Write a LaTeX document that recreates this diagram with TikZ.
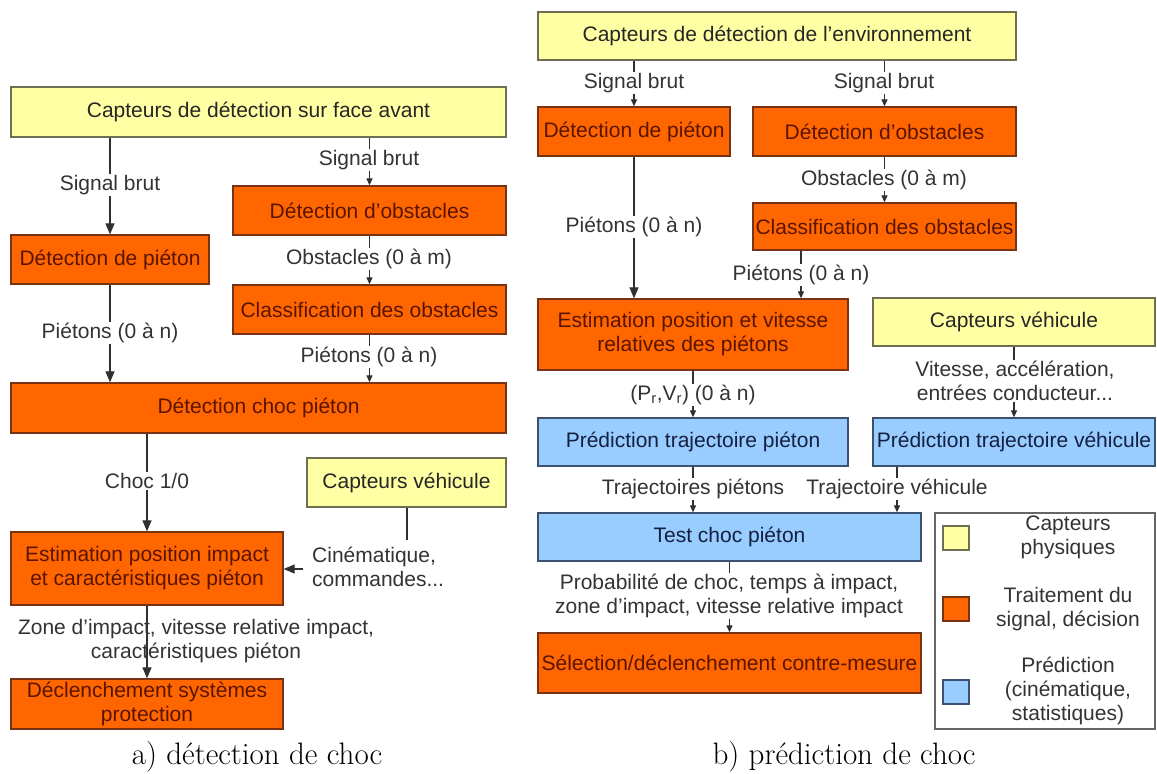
\documentclass[tikz,border=0pt]{standalone}
\usepackage{fontspec}
\newfontfamily\arial{Liberation Sans}
\usetikzlibrary{arrows.meta}
\definecolor{yfill}{HTML}{FFFFA3}
\definecolor{ydraw}{HTML}{6E6E50}
\definecolor{ofill}{HTML}{FF6600}
\definecolor{odraw}{HTML}{7A3214}
\definecolor{otext}{HTML}{5A1400}
\definecolor{bfill}{HTML}{99CCFF}
\definecolor{bdraw}{HTML}{3C5070}
\definecolor{btext}{HTML}{142040}
\definecolor{lcol}{HTML}{303030}
\tikzset{
  every node/.style={font=\arial\fontsize{21}{24}\selectfont},
  boxbase/.style={draw, line width=1.3pt, inner sep=0pt, align=center, anchor=center},
  ybox/.style={boxbase, fill=yfill, draw=ydraw, text=black!85},
  obox/.style={boxbase, fill=ofill, draw=odraw, text=otext},
  bbox/.style={boxbase, fill=bfill, draw=bdraw, text=btext},
  lbl/.style={fill=white, inner sep=1pt, align=center, text=black!80},
  lblclear/.style={inner sep=1pt, align=center, text=black!80},
  bigarr/.style={draw=lcol, line width=1.2pt, -{Triangle[length=11pt,width=9pt]}},
  smallarr/.style={draw=lcol, line width=1.2pt, -{Triangle[length=7pt,width=6pt]}},
  plainline/.style={draw=lcol, line width=1.2pt},
  captxt/.style={font=\fontsize{31}{36}\selectfont}
}
\begin{document}
\begin{tikzpicture}[x=1pt,y=-1pt]
\useasboundingbox (0,0) rectangle (1157,774);
% ---------- left diagram ----------
\node[ybox, minimum width=495pt, minimum height=50pt] (capA) at (258.5,112) {Capteurs de détection sur face avant};
\node[obox, minimum width=198pt, minimum height=49pt] (detP) at (110,259.5) {Détection de piéton};
\node[obox, minimum width=273pt, minimum height=49pt] (detO) at (369.5,210.5) {Détection d’obstacles};
\node[obox, minimum width=273pt, minimum height=49pt] (clsO) at (369.5,309.5) {Classification des obstacles};
\node[obox, minimum width=495pt, minimum height=50pt] (choc) at (258.5,408) {Détection choc piéton};
\node[ybox, minimum width=199pt, minimum height=49pt] (capV) at (406.5,482.5) {Capteurs véhicule};
\node[obox, minimum width=272pt, minimum height=73pt] (estA) at (147,568.5) {Estimation position impact\\et caractéristiques piéton};
\node[obox, minimum width=272pt, minimum height=50pt] (decl) at (147,704) {Déclenchement systèmes\\protection};
\coordinate (cvEnd) at (407,540);
\coordinate (cvStart) at (303,569);

\draw[bigarr] (capA.south -| detP.north) -- (detP.north);
\draw[smallarr] (capA.south -| detO.north) -- (detO.north);
\draw[smallarr] (detO.south) -- (clsO.north);
\draw[bigarr] (detP.south) -- (detP.south |- choc.north);
\draw[smallarr] (clsO.south) -- (clsO.south |- choc.north);
\draw[bigarr] (choc.south -| estA.north) -- (estA.north);
\draw[plainline] (capV.south -| cvEnd) -- (cvEnd);
\draw[bigarr] (cvStart) -- (cvStart -| estA.east);
\draw[bigarr] (estA.south) -- (decl.north);

\node[lbl] (lA1) at (110,185) {Signal brut};
\node[lbl] (lA2) at (369,160) {Signal brut};
\node[lbl] (lA3) at (369,259) {Obstacles (0 à m)};
\node[lbl] (lA4) at (110,333) {Piétons (0 à n)};
\node[lbl] (lA5) at (369,357) {Piétons (0 à n)};
\node[lbl] (lA6) at (147,481) {Choc 1/0};
\node[lbl, align=left, anchor=west] (lA7) at (311,567) {Cinématique,\\commandes...};
\node[lblclear] (lA8) at (196,641) {Zone d’impact, vitesse relative impact,\\caractéristiques piéton};

\node[captxt] (capa) at (257,757) {a) détection de choc};

% ---------- right diagram ----------
\node[ybox, minimum width=478pt, minimum height=48pt] (capE) at (777,36) {Capteurs de détection de l’environnement};
\node[obox, minimum width=192pt, minimum height=49pt] (detP2) at (634,131.5) {Détection de piéton};
\node[obox, minimum width=263pt, minimum height=49pt] (detO2) at (884.5,131.5) {Détection d’obstacles};
\node[obox, minimum width=263pt, minimum height=47pt] (clsO2) at (884.5,226.5) {Classification des obstacles};
\node[obox, minimum width=310pt, minimum height=71pt] (estB) at (693,334.5) {Estimation position et vitesse\\relatives des piétons};
\node[ybox, minimum width=282pt, minimum height=48pt] (capV2) at (1014,322) {Capteurs véhicule};
\node[bbox, minimum width=310pt, minimum height=48pt] (predP) at (693,442) {Prédiction trajectoire piéton};
\node[bbox, minimum width=282pt, minimum height=48pt] (predV) at (1014,442) {Prédiction trajectoire véhicule};
\node[bbox, minimum width=383pt, minimum height=48pt] (test) at (729.5,537) {Test choc piéton};
\node[obox, minimum width=383pt, minimum height=60pt] (sel) at (729.5,663) {Sélection/déclenchement contre-mesure};

\draw[smallarr] (capE.south -| detP2.north) -- (detP2.north);
\draw[smallarr] (capE.south -| detO2.north) -- (detO2.north);
\draw[smallarr] (detO2.south) -- (clsO2.north);
\draw[bigarr] (detP2.south) -- (detP2.south |- estB.north);
\draw[smallarr] ([xshift=-83.5pt]clsO2.south) -- ([xshift=-83.5pt]clsO2.south |- estB.north);
\draw[smallarr] (estB.south) -- (predP.north);
\draw[smallarr] (capV2.south) -- (predV.north);
\draw[smallarr] (predP.south) -- (predP.south |- test.north);
\draw[smallarr] ([xshift=-117pt]predV.south) -- ([xshift=-117pt]predV.south |- test.north);
\draw[smallarr] (test.south) -- (sel.north);

\node[lbl] (lB1) at (634,83) {Signal brut};
\node[lbl] (lB2) at (884,83) {Signal brut};
\node[lbl] (lB3) at (884,180) {Obstacles (0 à m)};
\node[lbl] (lB4) at (634,227) {Piétons (0 à n)};
\node[lbl] (lB5) at (801,275) {Piétons (0 à n)};
\node[lbl] (lB6) at (693,395) {(P\textsubscript{r},V\textsubscript{r}) (0 à n)};
\node[lbl] (lB7) at (1015,381) {Vitesse, accélération,\\entrées conducteur...};
\node[lbl] (lB8) at (693,489) {Trajectoires piétons};
\node[lbl] (lB9) at (897,489) {Trajectoire véhicule};
\node[lbl] (lB10) at (729,596) {Probabilité de choc, temps à impact,\\zone d’impact, vitesse relative impact};

% legend
\node[draw=black!60, line width=1.2pt, fill=white, minimum width=220pt, minimum height=216pt, inner sep=0pt] (leg) at (1045,621) {};
\node[draw=ydraw, fill=yfill, line width=1.2pt, minimum width=26pt, minimum height=24pt, inner sep=0pt] (legY) at (956,538) {};
\node[draw=odraw, fill=ofill, line width=1.2pt, minimum width=26pt, minimum height=24pt, inner sep=0pt] (legO) at (956,609) {};
\node[draw=bdraw, fill=bfill, line width=1.2pt, minimum width=26pt, minimum height=24pt, inner sep=0pt] (legB) at (956,692) {};
\node[lblclear] (legYt) at (1068,537) {Capteurs\\physiques};
\node[lblclear] (legOt) at (1068,609) {Traitement du\\signal, décision};
\node[lblclear] (legBt) at (1068,691) {Prédiction\\(cinématique,\\statistiques)};

\node[captxt] (capb) at (844,757) {b) prédiction de choc};
\end{tikzpicture}
\end{document}
